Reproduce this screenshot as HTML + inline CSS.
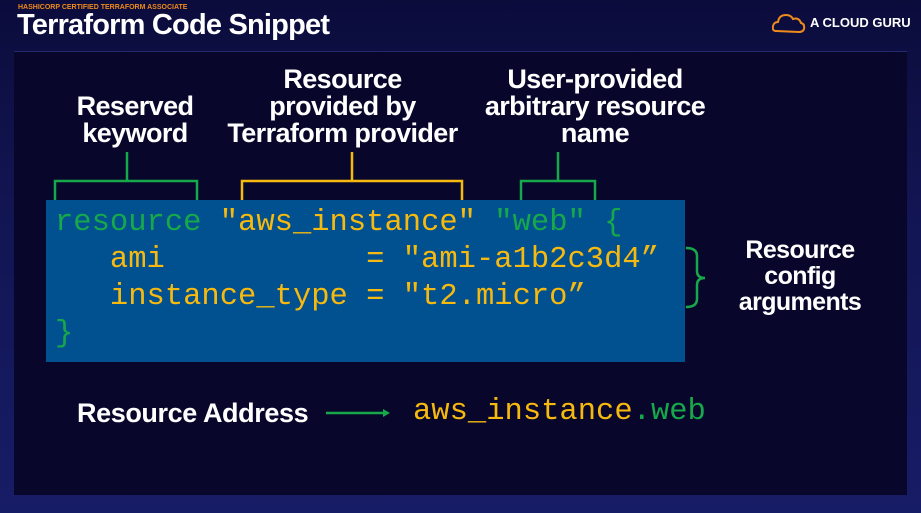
<!DOCTYPE html>
<html><head><style>
body{margin:0;width:921px;height:513px;overflow:hidden;background:linear-gradient(180deg,#0b0c3c 0%,#121552 40%,#171c66 100%);position:relative;font-family:"Liberation Sans",sans-serif}
.panel{position:absolute;left:14px;top:52px;width:893px;height:443px;background:#08072b}
.hl{position:absolute;left:14px;top:51px;width:893px;height:1px;background:#232a6e}
.t{position:absolute;color:#fff;font-weight:bold;text-align:center;letter-spacing:-0.6px;white-space:nowrap}
.code{position:absolute;left:46px;top:200px;width:639px;height:162px;background:#01508f}
.m{position:absolute;font-family:"Liberation Mono",monospace;font-size:30.5px;white-space:pre;line-height:37px}
.g{color:#16a84a}.y{color:#f6b90f}
</style></head><body>
<div class="panel"></div><div class="hl"></div>
<div style="position:absolute;left:18px;top:4px;font-size:7px;font-weight:bold;color:#f08a1c;white-space:nowrap">HASHICORP CERTIFIED TERRAFORM ASSOCIATE</div>
<div style="position:absolute;left:17px;top:9px;font-size:29px;font-weight:bold;color:#fff;letter-spacing:-0.8px;white-space:nowrap">Terraform Code Snippet</div>
<svg style="position:absolute;left:772px;top:12px" width="34" height="22"><path d="M4 19 Q0 19 1 14 Q2 10 6 10 Q7 3 14 3 Q19 3 21 7 Q27 5 29 11 Q33 12 32 17 Q31 20 27 20 Z" fill="none" stroke="#f08a1c" stroke-width="2"/></svg>
<div style="position:absolute;left:810px;top:15px;font-size:13px;font-weight:bold;color:#fff;white-space:nowrap">A CLOUD GURU</div>

<div class="t" style="left:55px;top:93px;width:160px;font-size:27px;line-height:27px">Reserved<br>keyword</div>
<div class="t" style="left:205px;top:66px;width:275px;font-size:27px;line-height:27px">Resource<br>provided by<br>Terraform provider</div>
<div class="t" style="left:460px;top:66px;width:270px;font-size:27px;line-height:27px">User-provided<br>arbitrary resource<br>name</div>

<svg style="position:absolute;left:0;top:0" width="921" height="513">
<g fill="none" stroke-width="2.5">
<path d="M127 152V181M55 205V181H197V205" stroke="#16a84a"/>
<path d="M352 152V181M242 205V181H462V205" stroke="#f6b90f"/>
<path d="M558 152V181M521 205V181H595V205" stroke="#16a84a"/>
<path d="M686 248Q697 248 697 256V271Q697 278 705 278Q697 278 697 285V299Q697 307 686 307" stroke="#16a84a"/>
<path d="M326 413H384" stroke="#16a84a"/>
</g>
<path d="M383 409L390 413L383 417Z" fill="#16a84a"/>
</svg>

<div class="code"></div>
<div class="m" style="left:55px;top:205px"><span class="g">resource </span><span class="y">"aws_instance"</span> <span class="g">"web" {</span>
<span class="y">   ami           = "ami-a1b2c3d4”</span>
<span class="y">   instance_type = "t2.micro”</span>
<span class="g">}</span></div>

<div class="t" style="left:715px;top:237px;width:170px;font-size:25px;line-height:26px">Resource<br>config<br>arguments</div>
<div class="t" style="left:77px;top:398px;font-size:27px;text-align:left;letter-spacing:-0.4px">Resource Address</div>
<div class="m" style="left:413px;top:394px"><span class="y">aws_instance</span><span class="g">.web</span></div>
</body></html>
